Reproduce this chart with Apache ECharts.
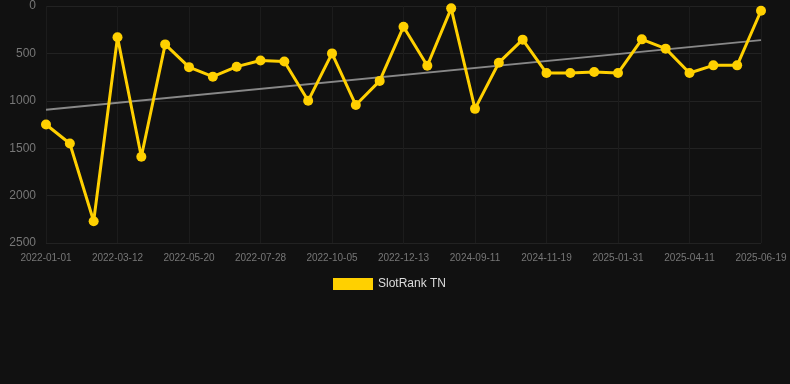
<!DOCTYPE html>
<html>
<head>
<meta charset="utf-8">
<script src="https://cdn.jsdelivr.net/npm/echarts@6/dist/echarts.min.js"></script>
<style>
  html, body { margin: 0; padding: 0; background: #111111; }
  #chart { width: 790px; height: 384px; }
</style>
</head>
<body>
<div id="chart"></div>
<script>
// dates on the x axis (one per rank sample)
const dates = [
  '2022-01-01', '2022-01-24', '2022-02-16', '2022-03-12', '2022-04-04', '2022-04-27',
  '2022-05-20', '2022-06-12', '2022-07-05', '2022-07-28', '2022-08-20', '2022-09-12',
  '2022-10-05', '2022-10-28', '2022-11-20', '2022-12-13', '2023-01-05', '2024-08-19',
  '2024-09-11', '2024-10-04', '2024-10-27', '2024-11-19', '2024-12-13', '2025-01-07',
  '2025-01-31', '2025-02-23', '2025-03-18', '2025-04-11', '2025-05-04', '2025-05-27',
  '2025-06-19'
];

// rank values (lower is better, axis is inverted)
const rankTN = [
  1250, 1450, 2270, 330, 1590, 405,
  645, 745, 640, 575, 585, 1000,
  500, 1045, 790, 218, 630, 25,
  1085, 598, 355, 707, 707, 696,
  707, 352, 450, 707, 626, 626,
  50
];

// trend line end points (first and last category)
const trendEnds = [1095, 360];

const yTicks = { min: 0, max: 2500, step: 500 };

const chart = echarts.init(document.getElementById('chart'));

const option = {
  backgroundColor: '#111111',
  animation: false,
  grid: { left: 46, right: 29, top: 6, bottom: 141 },
  legend: {
    top: 278,
    left: 333,
    padding: 0,
    itemWidth: 40,
    itemHeight: 12,
    itemGap: 10,
    icon: 'rect',
    textStyle: { color: '#dddddd', fontSize: 12 },
    data: ['SlotRank TN']
  },
  xAxis: {
    type: 'category',
    boundaryGap: false,
    data: dates,
    axisLine: { show: false },
    axisTick: { show: false },
    axisLabel: { interval: 2, color: '#777777', fontSize: 10, margin: 10 },
    splitLine: { show: true, interval: 2, lineStyle: { color: '#1c1c1c' } }
  },
  yAxis: {
    type: 'value',
    inverse: true,
    min: yTicks.min,
    max: yTicks.max,
    interval: yTicks.step,
    axisLine: { show: false },
    axisTick: { show: false },
    axisLabel: { color: '#777777', fontSize: 12, margin: 10, formatter: v => String(v) },
    splitLine: { lineStyle: { color: '#222222' } }
  },
  series: [
    {
      name: 'SlotRank TN',
      type: 'line',
      data: rankTN,
      symbol: 'circle',
      symbolSize: 10,
      itemStyle: { color: '#FFD000' },
      lineStyle: { color: '#FFD000', width: 3 },
      z: 3
    },
    {
      name: 'trend',
      type: 'line',
      data: dates.map((d, i) => i === 0 ? trendEnds[0] : (i === dates.length - 1 ? trendEnds[1] : null)),
      connectNulls: true,
      symbol: 'none',
      lineStyle: { color: '#888888', width: 2 },
      z: 2
    }
  ]
};

chart.setOption(option);
</script>
</body>
</html>
